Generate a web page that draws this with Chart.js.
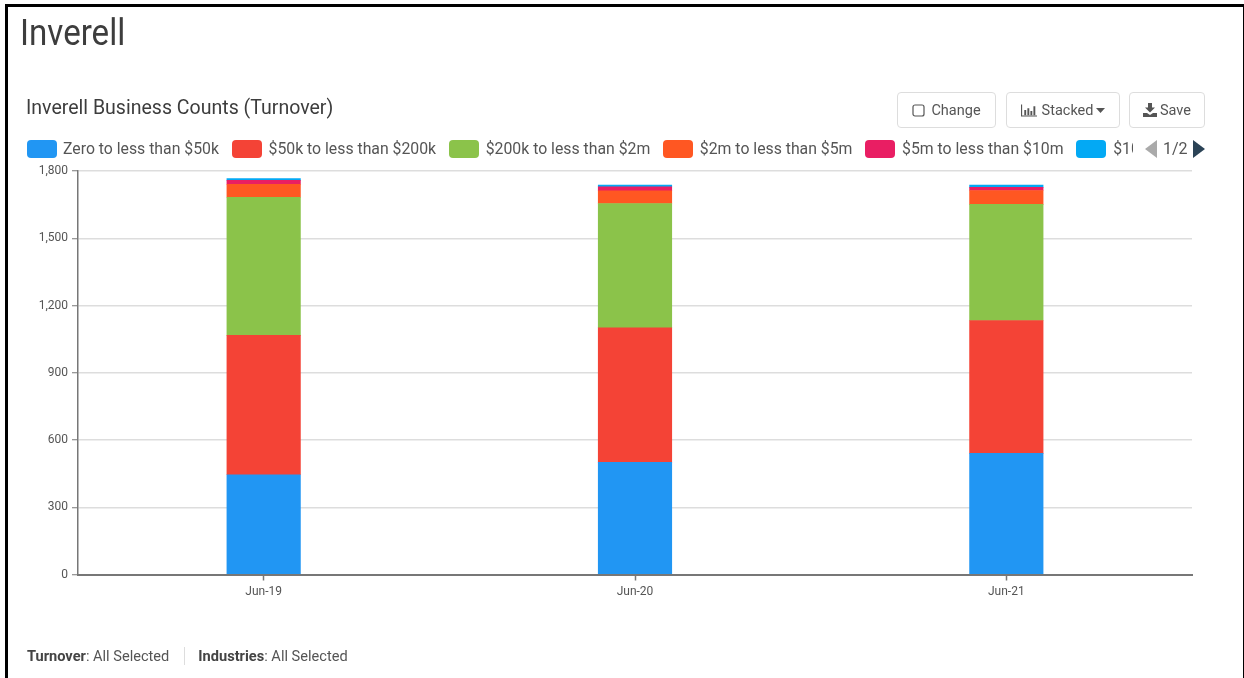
<!DOCTYPE html>
<html lang="en">
<head>
<meta charset="utf-8">
<title>Inverell Business Counts (Turnover)</title>
<script src="https://cdn.jsdelivr.net/npm/chart.js@4"></script>
<style>
  html, body { margin: 0; padding: 0; background: #fff; }
  body { width: 1244px; height: 678px; position: relative; overflow: hidden; font-family: Roboto, sans-serif; color: #444; }
  #frame { position: absolute; left: 5px; top: 4px; width: 1241px; height: 690px; border: 3px solid #000; box-sizing: border-box; }
  #chart { position: absolute; left: 0; top: 0; }
  h1, h2 { position: absolute; margin: 0; white-space: nowrap; color: #3d3d3d; }
  h1 { left: 20px; top: 12px; font-size: 36px; line-height: 42px; font-weight: 400; transform: scaleX(0.92); transform-origin: left center; }
  h2 { left: 26px; top: 96px; font-size: 19.55px; line-height: 24px; font-weight: 400; }
  .btn { position: absolute; top: 92px; height: 36px; box-sizing: border-box; border: 1.5px solid #ddd; border-radius: 4px;
         display: flex; align-items: center; justify-content: center; gap: 6px; font-size: 14.5px; color: #555; background: #fff; }
  .btn svg { display: block; }
  #legend { position: absolute; left: 27px; top: 138px; width: 1106px; height: 21px; overflow: hidden; display: flex; align-items: center;
            white-space: nowrap; font-size: 15.8px; color: #555; }
  .item { display: flex; align-items: center; flex: none; margin-right: 12.6px; }
  .swatch { width: 30px; height: 18px; border-radius: 4px; margin-right: 7px; flex: none; }
  .item:first-child .swatch { margin-right: 6px; }
  #pager { position: absolute; left: 1145px; top: 139px; width: 60px; height: 20px; font-size: 16px; line-height: 20px; color: #555; }
  #pager span { position: absolute; left: 18px; top: 0; }
  #pager svg { position: absolute; top: 1px; }
  #footer { position: absolute; left: 27px; top: 647px; height: 18px; display: flex; align-items: center; font-size: 14.6px; color: #555; white-space: nowrap; }
  #footer b { font-weight: 700; color: #444; }
  #footer i { display: block; width: 1px; height: 18px; background: #ddd; margin: 0 13px 0 15px; }
</style>
</head>
<body>
<canvas id="chart" width="1244" height="678"></canvas>
<div id="frame"></div>
<h1>Inverell</h1>
<h2>Inverell Business Counts (Turnover)</h2>

<div class="btn" style="left:897px;width:99px">
  <svg width="13" height="13" viewBox="0 0 13 13"><rect x="1" y="1" width="11" height="11" rx="2" fill="none" stroke="#555" stroke-width="1.2"/></svg>
  <span>Change</span>
</div>
<div class="btn" style="left:1006px;width:114px;gap:5px">
  <svg width="16" height="13" viewBox="0 0 17 13"><path d="M0.6 0v12.4H17" fill="none" stroke="#555" stroke-width="1.2"/><path d="M3.5 6h2v5.5h-2zM6.8 4h2v7.5h-2zM10 7h2v4.5h-2zM13.2 2h2v9.5h-2z" fill="#555"/></svg>
  <span>Stacked</span>
  <svg style="margin-left:-2px" width="9" height="5" viewBox="0 0 9 5"><path d="M0 0h9L4.5 5z" fill="#555"/></svg>
</div>
<div class="btn" style="left:1129px;width:76px;gap:3px">
  <svg width="14" height="14" viewBox="0 0 14 14"><path d="M5 0h4v4.5h3L7 9.5 2 4.5h3zM0 10h4l3 2 3-2h4v4H0z" fill="#555"/></svg>
  <span>Save</span>
</div>

<div id="legend"></div>
<div id="pager">
  <svg style="left:0" width="12" height="18" viewBox="0 0 12 18"><path d="M12 0v18L0 9z" fill="#aaa"/></svg>
  <span>1/2</span>
  <svg style="left:48px" width="12" height="18" viewBox="0 0 12 18"><path d="M0 0v18l12-9z" fill="#2b4356"/></svg>
</div>
<div id="footer"><b>Turnover</b>: All Selected<i></i><b>Industries</b>: All Selected</div>

<script>
// Business counts by turnover band at each June reference date.
const categories = ["Jun-19", "Jun-20", "Jun-21"];
const seriesNames = ["Zero to less than $50k", "$50k to less than $200k", "$200k to less than $2m", "$2m to less than $5m", "$5m to less than $10m", "$10m or more"];
const seriesColors = ["#2196F3", "#F44336", "#8BC34A", "#FF5722", "#E91E63", "#03A9F4"];
const zeroTo50k = [445, 500, 540];
const from50kTo200k = [622, 600, 593];
const from200kTo2m = [616, 555, 518];
const from2mTo5m = [58, 57, 62];
const from5mTo10m = [17, 17, 14];
const over10m = [8, 8, 10];
const seriesValues = [zeroTo50k, from50kTo200k, from200kTo2m, from2mTo5m, from5mTo10m, over10m];
const yMax = 1800;
const yStep = 300;

// HTML legend: the row is clipped by its container, with a pager beside it.
const legend = document.getElementById("legend");
seriesNames.forEach((name, i) => {
  const item = document.createElement("div");
  item.className = "item";
  const swatch = document.createElement("div");
  swatch.className = "swatch";
  swatch.style.background = seriesColors[i];
  const label = document.createElement("span");
  label.textContent = name;
  item.append(swatch, label);
  legend.append(item);
});

new Chart(document.getElementById("chart"), {
  type: "bar",
  data: {
    labels: categories,
    datasets: seriesNames.map((name, i) => ({
      label: name,
      data: seriesValues[i],
      backgroundColor: seriesColors[i],
      barThickness: 73.5
    }))
  },
  options: {
    responsive: false,
    animation: false,
    layout: { padding: { left: 0, top: 171, right: 52, bottom: 73.5 } },
    plugins: { legend: { display: false }, title: { display: false }, tooltip: { enabled: false } },
    scales: {
      x: {
        stacked: true,
        afterFit: s => { s.height = 30; },
        border: { color: "#777", width: 2 },
        grid: { offset: false, drawOnChartArea: false, drawTicks: true, tickLength: 6, tickColor: "#777", tickWidth: 1.5 },
        ticks: { color: "#555", font: { family: "Roboto", size: 12 }, padding: 4, maxRotation: 0 }
      },
      y: {
        stacked: true,
        min: 0,
        max: yMax,
        afterFit: s => { s.width = 78; },
        border: { color: "#777", width: 1.5 },
        grid: { color: "#ddd", lineWidth: 1.5, drawTicks: true, tickLength: 6, tickColor: "#777", tickWidth: 1 },
        ticks: { stepSize: yStep, color: "#555", font: { family: "Roboto", size: 12 }, padding: 4 }
      }
    }
  }
});
</script>
</body>
</html>
